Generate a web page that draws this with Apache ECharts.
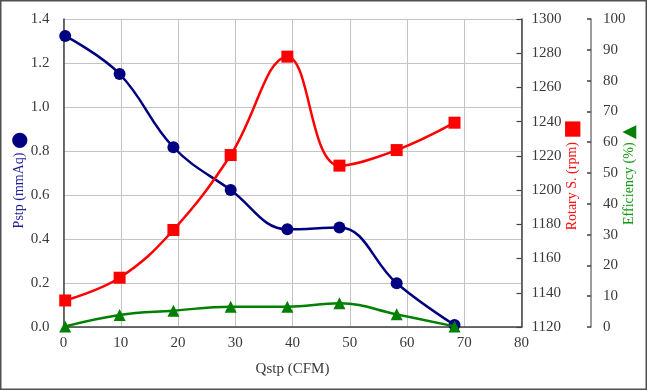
<!DOCTYPE html>
<html>
<head>
<meta charset="utf-8">
<script src="https://cdn.jsdelivr.net/npm/echarts@6/dist/echarts.min.js"></script>
<style>html,body{margin:0;padding:0;background:#fff}#c{width:647px;height:390px}</style>
</head>
<body>
<div id="c"></div>
<script>
const qstp = [0.3, 9.8, 19.2, 29.2, 39.1, 48.2, 58.2, 68.3];
const pstp = [1.323, 1.15, 0.817, 0.623, 0.444, 0.452, 0.199, 0.009];
const rpm = [1135.5, 1148.8, 1176.7, 1220.5, 1278, 1214.3, 1223.4, 1239.4];
const eff = [0.2, 3.9, 5.3, 6.6, 6.6, 7.7, 4.1, 0.2];
const xTicks = [0, 80, 10];
const pTicks = [0, 1.4, 0.2];
const rTicks = [1120, 1300, 20];
const eTicks = [0, 100, 10];

const FONT = '"Liberation Serif", "DejaVu Serif", serif';
const TXT = '#3a3a3a';
const pair = (xs, ys) => xs.map((x, i) => [x, ys[i]]);

const chart = echarts.init(document.getElementById('c'));
chart.setOption({
  animation: false,
  backgroundColor: '#fff',
  textStyle: { fontFamily: FONT },
  graphic: [{
    type: 'rect', z: 100, silent: true,
    shape: { x: 0.75, y: 0.75, width: 645.5, height: 388.5 },
    style: { fill: 'none', stroke: '#505050', lineWidth: 1.5 }
  }],
  grid: { left: 63.5, right: 125.5, top: 19, bottom: 63, containLabel: false, outerBoundsMode: 'none' },
  xAxis: {
    type: 'value', min: xTicks[0], max: xTicks[1], interval: xTicks[2],
    name: 'Qstp (CFM)', nameLocation: 'middle', nameGap: 35, nameMoveOverlap: false,
    nameTextStyle: { color: TXT, fontSize: 15, fontFamily: FONT },
    axisLine: { show: true, lineStyle: { color: '#404040', width: 1.5 } },
    axisTick: { show: false },
    axisLabel: { color: TXT, fontSize: 15, fontFamily: FONT, margin: 9, formatter: v => String(v) },
    splitLine: { show: true, lineStyle: { color: '#c4c4c4', width: 1 } }
  },
  yAxis: [{
    type: 'value', position: 'left', min: pTicks[0], max: pTicks[1], interval: pTicks[2],
    name: '{t|Pstp (mmAq) }{s|●}', nameLocation: 'middle', nameGap: 34, nameRotate: 90, nameMoveOverlap: false,
    nameTextStyle: { fontFamily: FONT, padding: [0, 14, 0, 0], rich: {
      t: { color: '#1e1e96', fontSize: 14, fontFamily: FONT },
      s: { color: '#000080', fontSize: 20, fontFamily: 'DejaVu Sans' } } },
    axisLine: { show: true, lineStyle: { color: '#404040', width: 1.5 } },
    axisTick: { show: false },
    axisLabel: { color: TXT, fontSize: 15, fontFamily: FONT, margin: 14, formatter: v => v.toFixed(1) },
    splitLine: { show: true, lineStyle: { color: '#c4c4c4', width: 1 } }
  }, {
    type: 'value', position: 'right', min: rTicks[0], max: rTicks[1], interval: rTicks[2],
    name: '{t|Rotary S. (rpm) }{s|■}', nameLocation: 'middle', nameGap: 41, nameRotate: 90, nameMoveOverlap: false,
    nameTextStyle: { fontFamily: FONT, padding: [0, 4, 0, 0], rich: {
      t: { color: '#ff1010', fontSize: 14, fontFamily: FONT },
      s: { color: '#ff0000', fontSize: 20, fontFamily: 'DejaVu Sans' } } },
    axisLine: { show: true, lineStyle: { color: '#404040', width: 1.5 } },
    axisTick: { show: true, inside: true, length: 5, lineStyle: { color: '#404040', width: 1.2 } },
    axisLabel: { color: TXT, fontSize: 15, fontFamily: FONT, margin: 10, formatter: v => String(v) },
    splitLine: { show: false }
  }, {
    type: 'value', position: 'right', offset: 69.5, min: eTicks[0], max: eTicks[1], interval: eTicks[2],
    name: '{t|Efficiency (%) }{s|▲}', nameLocation: 'middle', nameGap: 29, nameRotate: 90, nameMoveOverlap: false,
    nameTextStyle: { fontFamily: FONT, padding: [0, 4, 0, 0], rich: {
      t: { color: '#129a12', fontSize: 14, fontFamily: FONT },
      s: { color: '#008000', fontSize: 18, fontFamily: 'DejaVu Sans' } } },
    axisLine: { show: true, lineStyle: { color: '#7a7a7a', width: 1.5 } },
    axisTick: { show: true, inside: true, length: 4, lineStyle: { color: '#404040', width: 1.5 } },
    axisLabel: { color: TXT, fontSize: 15, fontFamily: FONT, margin: 12, formatter: v => String(v) },
    splitLine: { show: false }
  }],
  series: [{
    type: 'line', yAxisIndex: 0, data: pair(qstp, pstp), smooth: 0.4,
    symbol: 'circle', symbolSize: 12,
    lineStyle: { color: '#000080', width: 2.5 }, itemStyle: { color: '#000080' }, z: 2
  }, {
    type: 'line', yAxisIndex: 1, data: pair(qstp, rpm), smooth: 0.4,
    symbol: 'rect', symbolSize: 12,
    lineStyle: { color: '#ff0000', width: 2.5 }, itemStyle: { color: '#ff0000' }, z: 3
  }, {
    type: 'line', yAxisIndex: 2, data: pair(qstp, eff), smooth: 0.4,
    symbol: 'triangle', symbolSize: 12,
    lineStyle: { color: '#008000', width: 2.5 }, itemStyle: { color: '#008000' }, z: 4
  }]
});
</script>
</body>
</html>
